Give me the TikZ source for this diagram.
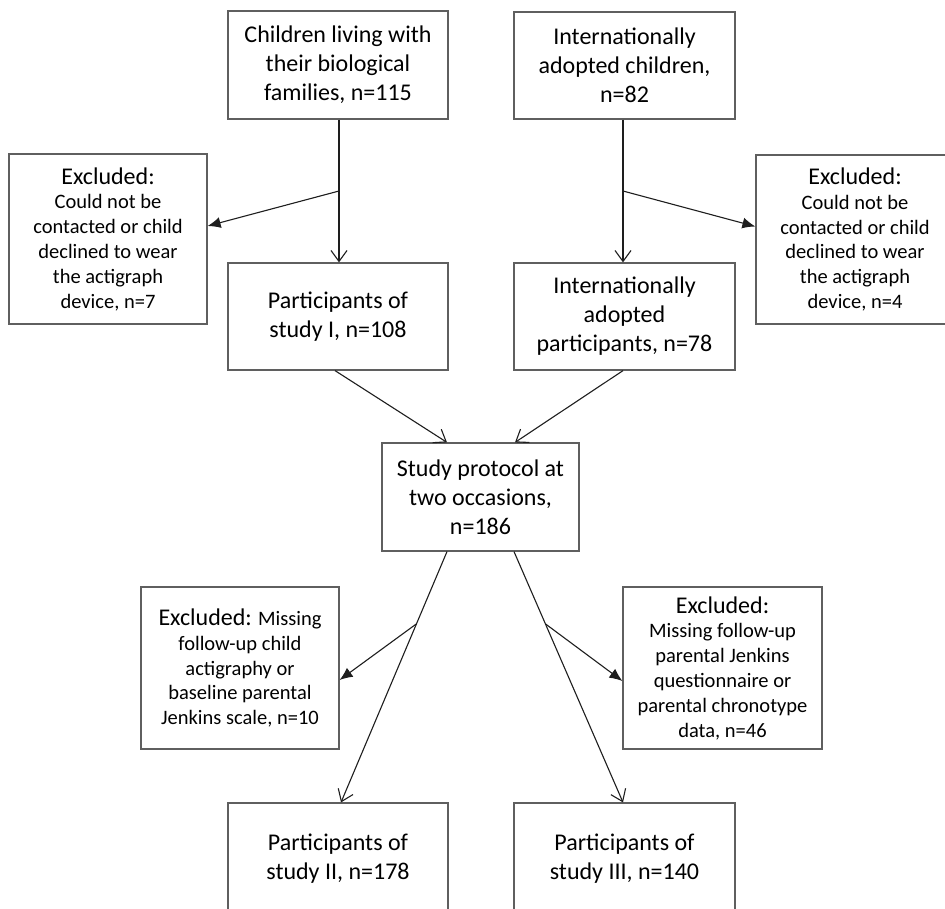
\documentclass[tikz,border=0pt]{standalone}
\usepackage{fontspec}
\setmainfont{Carlito}
\usetikzlibrary{arrows.meta,calc}
\definecolor{boxgray}{RGB}{95,95,95}
\definecolor{linecol}{RGB}{30,30,30}
\begin{document}
\begin{tikzpicture}[x=1pt,y=-1pt,
  box/.style={draw=boxgray,line width=1.2pt,align=center,inner sep=0pt,
    font=\fontsize{24}{29}\selectfont},
  exbox/.style={draw=boxgray,line width=1.2pt,align=center,inner sep=0pt,
    font=\fontsize{20.5}{24.8}\selectfont},
  flow/.style={draw=linecol,line width=1.1pt,-{Straight Barb[length=11pt,width=16pt,line width=1.1pt]}},
  side/.style={draw=linecol,line width=1.1pt,-{Latex[length=13pt,width=11pt]}}]
\useasboundingbox (0,0) rectangle (945,908);
\clip (0,0) rectangle (945,908);
\fill[white] (0,0) rectangle (945,908);
% boxes
\node[box,minimum width=220pt,minimum height=108pt] (b1) at (338,65)
  {Children living with\\their biological\\families, n=115};
\node[box,minimum width=221pt,minimum height=107pt] (b2) at (624.5,65.5)
  {Internationally\\adopted children,\\n=82};
\node[exbox,minimum width=198pt,minimum height=170pt] (ex1) at (108,239)
  {{\fontsize{24}{25}\selectfont Excluded:}\\Could not be\\contacted or child\\declined to wear\\the actigraph\\device, n=7};
\node[exbox,minimum width=198pt,minimum height=169pt] (ex2) at (855,239.5)
  {{\fontsize{24}{25}\selectfont Excluded:}\\Could not be\\contacted or child\\declined to wear\\the actigraph\\device, n=4};
\node[box,minimum width=220pt,minimum height=107pt] (p1) at (338,316.5)
  {Participants of\\study I, n=108};
\node[box,minimum width=221pt,minimum height=107pt] (p2) at (624.5,316.5)
  {Internationally\\adopted\\participants, n=78};
\node[box,minimum width=197pt,minimum height=108pt] (sp) at (480.5,497)
  {Study protocol at\\two occasions,\\n=186};
\node[exbox,minimum width=198pt,minimum height=162pt] (ex3) at (240,668)
  {{\fontsize{24}{25}\selectfont Excluded:} Missing\\follow-up child\\actigraphy or\\baseline parental\\Jenkins scale, n=10};
\node[exbox,minimum width=199pt,minimum height=162pt] (ex4) at (722.5,668)
  {{\fontsize{24}{25}\selectfont Excluded:}\\Missing follow-up\\parental Jenkins\\questionnaire or\\parental chronotype\\data, n=46};
\node[box,minimum width=220pt,minimum height=112pt] (p3) at (338,859)
  {Participants of\\study II, n=178};
\node[box,minimum width=221pt,minimum height=112pt] (p4) at (624.5,859)
  {Participants of\\study III, n=140};
% connectors
\draw[flow] ([xshift=1pt]b1.south) -- coordinate[pos=0.5] (j1) ([xshift=1pt]p1.north);
\draw[side] (j1) -- ([yshift=13pt]ex1.east);
\draw[flow] ([xshift=-1.5pt]b2.south) -- coordinate[pos=0.5] (j2) ([xshift=-1.5pt]p2.north);
\draw[side] (j2) -- ([yshift=13pt]ex2.west);
\draw[flow] ([xshift=-3pt]p1.south) -- ([xshift=-33.5pt]sp.north);
\draw[flow] ([xshift=-1.5pt]p2.south) -- ([xshift=34.5pt]sp.north);
\draw[flow] ([xshift=-33.5pt]sp.south) -- coordinate[pos=0.288] (j3) ([xshift=3pt]p3.north);
\draw[side] (j3) -- ([yshift=-12pt]ex3.east);
\draw[flow] ([xshift=33.5pt]sp.south) -- coordinate[pos=0.288] (j4) ([xshift=-1.5pt]p4.north);
\draw[side] (j4) -- ([yshift=-13pt]ex4.west);
\end{tikzpicture}
\end{document}
